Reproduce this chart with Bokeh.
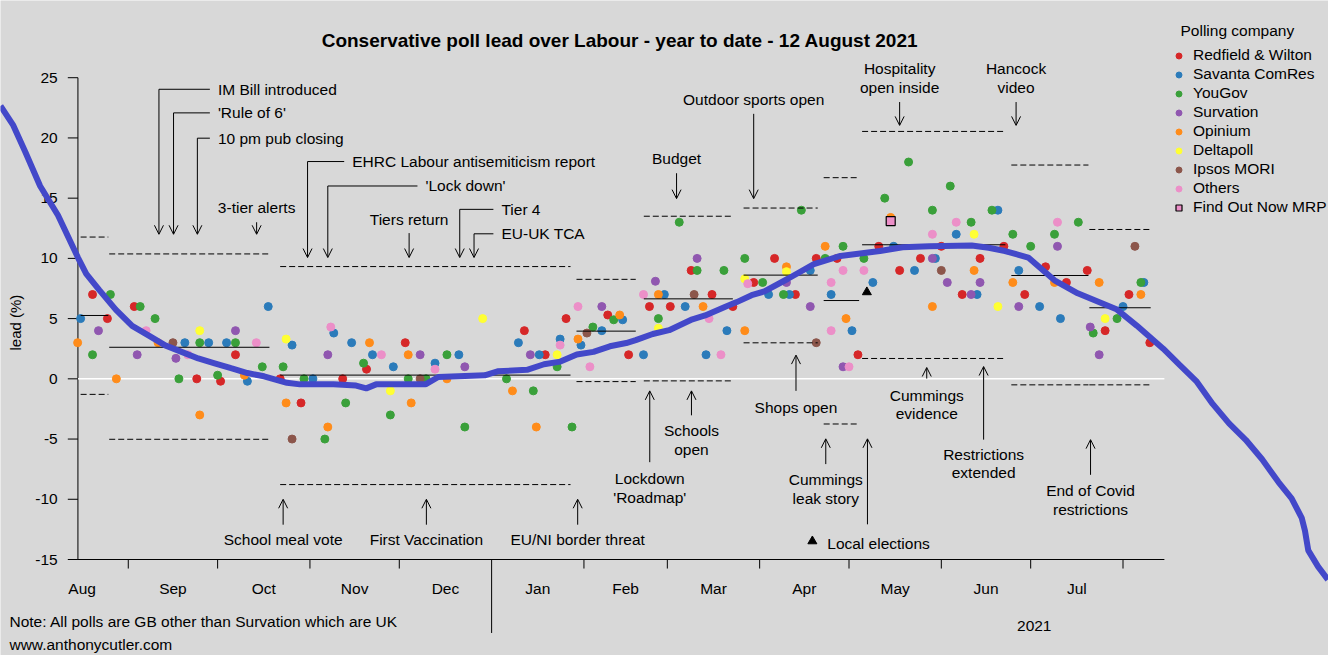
import pandas as pd
from bokeh.plotting import figure
from bokeh.models import Range1d, ColumnDataSource, Arrow, OpenHead
from bokeh.core.properties import value
from bokeh.embed import file_html
from bokeh.resources import INLINE

FONT = "Liberation Sans"
BG = "#d8d8d8"

# x is days since 1 Jan 2021, y is Conservative lead over Labour (points)
rw_day = [-134, -129, -120, -99, -91, -86, -71, -64, -50, -42, -29, 11, 18, 25, 39, 46, 53, 60, 67, 74, 81,
          88, 95, 102, 109, 116, 123, 130, 137, 144, 151, 158, 164, 172, 179, 186, 193, 200, 206, 214, 221]
rw_lead = [7, 5, 6, 0, -0.2, 2, 0, -2, 0, 0.8, 3, 4, 2, 5, 5.3, 2, 6, 6, 9, 7, 6,
           8, 10, 7, 10, 10, 2, 11, 9, 10, 11, 7, 10, 11, 7, 9.3, 8, 9, 4, 7, 3]

sav_day = [-138, -103, -95, -89, -82, -75, -67, -60, -53, -47, -40, -33, -19, -11, 9, 16, 23, 30, 37, 44, 51,
           58, 65, 72, 79, 93, 100, 107, 114, 121, 128, 135, 142, 149, 156, 163, 170, 177, 184, 191, 212, 219]
sav_lead = [5, 3, 3, 3, -0.2, 6, 2.8, 0, 3.8, 3, 2, 1, 1.3, 2, 3, 2, 3.3, 2.8, 4, 4.9, 2,
            7, 6, 2, 4, 7, 7, 9, 7, 4, 8, 11, 9, 10, 12, 7, 14, 9, 6, 5, 6, 8]

yg_day = [-134, -128, -118, -113, -105, -98, -92, -86, -77, -70, -63, -56, -49, -43, -34, -28, -22, -15, -9, 5,
          14, 22, 27, 34, 41, 56, 63, 69, 78, 85, 91, 98, 104, 112, 118, 125, 132, 140, 148, 154, 161, 168,
          175, 181, 189, 197, 202, 210, 218]
yg_lead = [2, 7, 6, 5, 0, 3, 0.3, 3, 1, 1, 0, -5, -2, 1.3, -3, 0, 0, 2, -4, 0,
           -1, 1, -4, 4.3, 4.9, 5, 13, 9, 9, 10, 8, 7, 14, 10, 11, 10, 15, 18, 14, 16, 13, 14,
           12, 11, 12, 13, 3.8, 5, 8]

surv_day = [-132, -119, -106, -86, -55, -24, -9, 13, 37, 55, 69, 99, 107, 118, 148, 153, 161, 164, 177, 190, 201, 204]
surv_lead = [4, 2, 1.7, 4, 2, 2, 1, 2, 6, 8.1, 10, 8, 6, 1, 10, 8, 7, 8, 6, 11, 4.3, 2]

opi_day = [-139, -126, -112, -98, -83, -69, -55, -41, -28, -27, -15, 7, 15, 29, 43, 56, 71, 85, 99, 112,
           119, 134, 148, 162, 175, 189, 204, 218]
opi_lead = [3, 0, 3, -3, 0.3, -2, -4, 3, 2, -2, 0, -1, -4, 3.3, 5.3, 7, 6, 4, 9.3, 11,
            5, 13.4, 6, 9, 8, 8, 8, 7]

dp_day = [-98, -69, -34, -3, 22, 56, 85, 99, 162, 170, 206]
dp_lead = [4, 3.3, -1, 5, 2, 4.2, 8.3, 8.9, 12, 6, 5]

ipsos_day = [-107, -67, -24, 32, 68, 109, 151, 216]
ipsos_lead = [3, -5, 0, 3.8, 7, 3, 9, 11]

oth_day = [-116, -102, -79, -54, -37, -19, 23, 29, 33, 51, 73, 77, 86, 114, 114, 118, 120, 125, 148, 156, 190]
oth_lead = [4, 2, 3, 4.3, 2, 0.8, 2.8, 6, 1, 7, 5, 2, 7.9, 8, 4, 9, 1, 9, 12, 13, 13]

fon_day = [134]
fon_lead = [13.1]

local_elections_day = [126]
local_elections_lead = [7.2]

# average lead between events: start, end, mean, upper and lower band
seg_start = [-138.0, -128.4, -71.0, 28.5, 51.1, 84.6, 111.5, 124.4, 174.5, 200.7]
seg_end = [-128.7, -74.6, 26.5, 48.4, 81.0, 109.5, 123.4, 172.5, 200.4, 221.3]
seg_mean = [5.26, 2.62, 0.31, 3.96, 6.64, 8.61, 6.5, 11.13, 8.58, 5.9]
seg_upper = [11.77, 10.37, 9.32, 8.26, 13.5, 14.18, 16.7, 20.54, 17.75, 12.4]
seg_lower = [-1.29, -5.02, -8.78, -0.23, -0.17, 2.99, -3.75, 1.69, -0.5, -0.5]

# smoothed trend
trend_day = [-164.9, -160.6, -156.6, -151.6, -145.6, -138.9, -136.1, -131.7, -126.2, -120.7, -115.1, -109.6,
             -104.1, -98.5, -93.0, -87.5, -82.0, -76.4, -68.7, -64.4, -53.1, -45.5, -42.1, -38.8, -22.2,
             -17.9, -2.3, 2.0, 11.9, 17.6, 23.1, 28.6, 34.2, 39.7, 45.2, 48.4, 54.1, 59.6, 67.4, 71.7,
             78.3, 82.3, 87.3, 91.6, 99.5, 108.2, 117.1, 130.4, 138.0, 147.0, 161.2, 166.9, 172.4, 180.2,
             189.0, 196.8, 210.0, 216.6, 225.5, 231.0, 236.6, 242.1, 247.6, 253.2, 258.7, 264.2, 268.6,
             272.0, 273.1, 274.2, 277.5, 280.8]
trend_lead = [22.66, 21.04, 18.85, 16.01, 13.58, 10.07, 8.72, 7.37, 5.75, 4.40, 3.59, 2.78,
              2.24, 1.69, 1.29, 0.88, 0.48, 0.21, -0.33, -0.46, -0.46, -0.56, -0.79, -0.46, -0.46,
              0.15, 0.29, 0.62, 0.75, 1.21, 1.43, 2.02, 2.24, 2.70, 2.97, 3.21, 3.72, 4.04, 4.94, 5.26,
              5.96, 6.37, 6.94, 7.26, 8.31, 9.53, 10.20, 10.61, 10.93, 11.01, 11.07, 10.88, 10.61, 10.07,
              8.18, 7.10, 5.75, 4.42, 2.50, 1.16, -0.19, -2.08, -3.70, -5.06, -6.68, -8.57, -9.92,
              -11.54, -12.62, -14.24, -15.59, -16.67]

# events with an elbow connector and a left-aligned caption
elbow_text = ["IM Bill introduced", "'Rule of 6'", "10 pm pub closing", "EHRC Labour antisemiticism report",
              "'Lock down'", "Tier 4", "EU-UK TCA"]
elbow_day = [-111.7, -106.8, -98.8, -61.8, -55.0, -10.7, -5.9]
elbow_text_day = [-91.9, -91.9, -91.9, -46.8, -22.2, 3.3, 3.3]
elbow_text_y = [24.04, 22.08, 19.98, 18.04, 16.01, 14.07, 12.04]
elbow_tip = [12.0, 12.0, 12.0, 10.07, 10.07, 10.07, 10.07]

# events with a straight arrow and a centred caption
ev_text = ["3-tier alerts", "Tiers return", "Budget", "Outdoor sports open", "Hospitality\nopen inside",
           "Hancock\nvideo", "School meal vote", "First Vaccination", "EU/NI border threat",
           "Lockdown\n'Roadmap'", "Schools\nopen", "Shops open", "Cummings\nleak story", "",
           "Cummings\nevidence", "Restrictions\nextended", "End of Covid\nrestrictions"]
ev_day = [-78.9, -27.7, 62.1, 88.0, 137.0, 176.1, -70.0, -21.9, 28.9, 53.1, 67.1, 102.2, 112.2, 126.2,
          146.1, 165.2, 201.1]
ev_text_y = [14.23, 13.26, 18.28, 23.23, 25.74, 25.74, -13.32, -13.32, -13.32, -8.30, -4.33, -2.36,
             -8.38, 0, -1.35, -6.27, -9.27]
ev_from = [13.0, 12.1, 17.07, 22.0, 22.98, 22.98, -12.11, -12.11, -12.11, -6.92, -3.03, -1.0, -7.08,
           -12.08, 0.02, -5.05, -7.97]
ev_to = [12.0, 10.07, 14.96, 14.96, 21.04, 21.04, -10.0, -10.0, -10.0, -1.0, -1.0, 1.97, -4.98, -4.98,
         0.94, 1.02, -5.05]

y_ticks = [-15, -10, -5, 0, 5, 10, 15, 20, 25]

base = pd.Timestamp("2021-01-01")
months = pd.date_range("2020-08-01", "2021-07-01", freq="MS")
month_names = [m.strftime("%b") for m in months]
month_mid = [(m - base).days + m.days_in_month / 2 for m in months]
tick_days = [(m - base).days for m in pd.date_range("2020-09-01", "2021-08-01", freq="MS")]

x_left, x_right = -138.9, 225.9
line_gap = 1.54

p = figure(width=1328, height=655, x_range=Range1d(-164.9, 281.0), y_range=Range1d(-22.97, 31.41),
           x_axis_type=None, y_axis_type=None, toolbar_location=None, output_backend="svg",
           min_border=0, background_fill_color=BG, border_fill_color=BG, outline_line_color=None)


def txt(x, y, t, align="left", size="15.5px", style="normal", angle=0):
    p.text(x=x, y=y, text=t, text_font=value(FONT), text_font_size=size, text_align=align,
           text_baseline="middle", text_color="black", text_font_style=style, angle=angle)


# axes
p.segment(x0=[x_left], y0=[-15], x1=[x_right], y1=[-15], line_color="black", line_width=1)
p.segment(x0=[x_left], y0=[-15], x1=[x_left], y1=[25], line_color="black", line_width=1)
p.segment(x0=[x_left - 3.4] * len(y_ticks), y0=y_ticks, x1=[x_left] * len(y_ticks), y1=y_ticks,
          line_color="black", line_width=1)
txt([x_left - 6.8] * len(y_ticks), y_ticks, [str(v) for v in y_ticks], align="right")
p.segment(x0=tick_days, y0=[-15] * len(tick_days), x1=tick_days,
          y1=[-21.1 if d == 0 else -15.75 for d in tick_days], line_color="black", line_width=1)
txt(month_mid, [-17.37] * len(month_mid), month_names, align="center")
p.segment(x0=[x_left], y0=[0], x1=[x_right], y1=[0], line_color="white", line_width=1.5)

# polls
pollsters = [
    ("Redfield & Wilton", "#d62728", rw_day, rw_lead),
    ("Savanta ComRes", "#2b7bba", sav_day, sav_lead),
    ("YouGov", "#3aa03a", yg_day, yg_lead),
    ("Survation", "#9057b0", surv_day, surv_lead),
    ("Opinium", "#ff8c1a", opi_day, opi_lead),
    ("Deltapoll", "#ffff33", dp_day, dp_lead),
    ("Ipsos MORI", "#8c564b", ipsos_day, ipsos_lead),
    ("Others", "#ec8fc8", oth_day, oth_lead),
]
for name, col, xs, ys in pollsters:
    p.scatter(xs, ys, size=8, fill_color=col, line_color=col, legend_label=name)
p.scatter(fon_day, fon_lead, marker="square", size=9, fill_color="#ec8fc8", line_color="black",
          line_width=1.2, legend_label="Find Out Now MRP")
p.scatter(local_elections_day, local_elections_lead, marker="triangle", size=9, color="black")

# period averages and bands
p.segment(x0=seg_start, y0=seg_mean, x1=seg_end, y1=seg_mean, line_color="black", line_width=1)
p.segment(x0=seg_start, y0=seg_upper, x1=seg_end, y1=seg_upper, line_color="black", line_width=1,
          line_dash="6 3")
p.segment(x0=seg_start, y0=seg_lower, x1=seg_end, y1=seg_lower, line_color="black", line_width=1,
          line_dash="6 3")

p.line(trend_day, trend_lead, line_color="#4348c9", line_width=6)

# event annotations
p.segment(x0=elbow_day, y0=elbow_text_y, x1=[t - 2.7 for t in elbow_text_day], y1=elbow_text_y,
          line_color="black", line_width=1)
txt(elbow_text_day, elbow_text_y, elbow_text)
arrows = ColumnDataSource(dict(
    x0=elbow_day + ev_day, y0=elbow_text_y + ev_from,
    x1=elbow_day + ev_day, y1=elbow_tip + ev_to))
p.add_layout(Arrow(end=OpenHead(size=9, line_width=1, line_color="black"), x_start="x0", y_start="y0",
                   x_end="x1", y_end="y1", source=arrows, line_width=1, line_color="black"))
cx, cy, ct = [], [], []
for t, d, y in zip(ev_text, ev_day, ev_text_y):
    for k, part in enumerate(t.split("\n")):
        if part:
            cx.append(d)
            cy.append(y - k * line_gap)
            ct.append(part)
txt(cx, cy, ct, align="center")

p.scatter([107.7], [-13.48], marker="triangle", size=9, color="black")
txt([112.7], [-13.64], ["Local elections"])

# titles and notes
txt([43.1], [28.09], ["Conservative poll lead over Labour - year to date - 12 August 2021"],
    align="center", size="19px", style="bold")
txt([-159.9], [4.67], ["lead (%)"], align="center", size="15px", angle=1.5708)
txt([-161.9], [-20.13], ["Note: All polls are GB other than Survation which are UK"])
txt([-161.9], [-22.07], ["www.anthonycutler.com"])
txt([182.2], [-20.53], ["2021"], align="center")
txt([231.3], [28.9], ["Polling company"])

leg = p.legend[0]
leg.location = (1171, 439)
leg.glyph_width = 15
leg.glyph_height = 15
leg.label_standoff = 7
leg.label_height = 18
leg.spacing = 1
leg.padding = 0
leg.margin = 0
leg.background_fill_alpha = 0
leg.border_line_alpha = 0
leg.label_text_font = FONT
leg.label_text_font_size = "15.5px"
leg.label_text_color = "black"

open("out.html", "w").write(file_html(p, INLINE))
